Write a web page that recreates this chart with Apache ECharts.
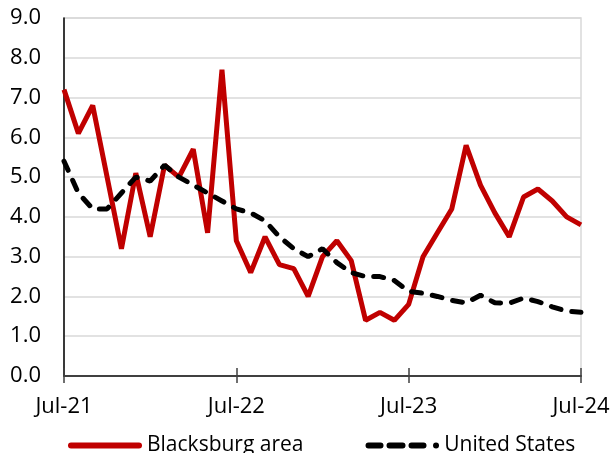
<!DOCTYPE html>
<html><head><meta charset="utf-8">
<script src="https://cdn.jsdelivr.net/npm/echarts@6/dist/echarts.min.js"></script>
<style>html,body{margin:0;padding:0;background:#fff}#c{width:613px;height:453px}</style>
</head><body><div id="c"></div>
<script>
const months = ["Jul-21","Aug-21","Sep-21","Oct-21","Nov-21","Dec-21","Jan-22","Feb-22","Mar-22","Apr-22","May-22","Jun-22",
"Jul-22","Aug-22","Sep-22","Oct-22","Nov-22","Dec-22","Jan-23","Feb-23","Mar-23","Apr-23","May-23","Jun-23",
"Jul-23","Aug-23","Sep-23","Oct-23","Nov-23","Dec-23","Jan-24","Feb-24","Mar-24","Apr-24","May-24","Jun-24","Jul-24"];
const blacksburg = [7.2,6.1,6.8,5.0,3.2,5.1,3.5,5.3,5.0,5.7,3.6,7.7,
3.4,2.6,3.5,2.8,2.7,2.0,3.0,3.4,2.9,1.4,1.6,1.4,
1.8,3.0,3.6,4.2,5.8,4.8,4.1,3.5,4.5,4.7,4.4,4.0,3.8];
const unitedStates = [5.4,4.6,4.2,4.2,4.6,5.0,4.9,5.3,5.0,4.8,4.6,4.4,
4.2,4.1,3.9,3.5,3.2,3.0,3.2,2.85,2.6,2.5,2.5,2.4,
2.13,2.08,2.0,1.9,1.84,2.03,1.84,1.83,1.96,1.87,1.74,1.63,1.6];
const yTicks = [0,1,2,3,4,5,6,7,8,9];
const seriesNames = ['Blacksburg area','United States'];
const FONT = "Open Sans";
const solidIcon = 'path://M3,0h68a3,3 0 0 1 0,6h-68a3,3 0 0 1 0,-6z';
const dashIcon = 'path://M3,0h12a3,3 0 0 1 0,6h-12a3,3 0 0 1 0,-6z M24,0h13a3,3 0 0 1 0,6h-13a3,3 0 0 1 0,-6z M46,0h12a3,3 0 0 1 0,6h-12a3,3 0 0 1 0,-6z M70.5,0a3,3 0 0 1 0,6a3,3 0 0 1 0,-6z';
const chart = echarts.init(document.getElementById('c'));
chart.setOption({
  animation:false,
  backgroundColor:'#fff',
  textStyle:{fontFamily:FONT},
  grid:{left:64,right:32,top:18,bottom:77,show:true,borderColor:'#d9d9d9',borderWidth:1.5},
  legend:{top:430,left:63,itemWidth:74,itemHeight:6,itemGap:62,
    textStyle:{fontFamily:FONT,fontSize:21,color:'#000'},
    data:[{name:seriesNames[0],icon:solidIcon},{name:seriesNames[1],icon:dashIcon}]},
  xAxis:[{type:'category',data:months,boundaryGap:false,position:'bottom',
    axisLine:{lineStyle:{color:'#404040',width:2}},
    axisTick:{interval:11,length:7,lineStyle:{color:'#404040',width:1.5}},
    axisLabel:{interval:11,margin:20,fontSize:22,color:'#000',fontFamily:FONT},
    splitLine:{show:false}},
   {type:'category',data:months,boundaryGap:false,position:'bottom',
    axisLine:{show:false},
    axisTick:{interval:11,length:8,inside:true,lineStyle:{color:'#404040',width:1.5}},
    axisLabel:{show:false},splitLine:{show:false}}],
  yAxis:{type:'value',min:yTicks[0],max:yTicks[yTicks.length-1],interval:1,
    axisLine:{show:true,lineStyle:{color:'#000',width:1.5}},
    axisTick:{show:false},
    axisLabel:{formatter:v=>v.toFixed(1),fontSize:22,color:'#000',margin:23,fontFamily:FONT},
    splitLine:{lineStyle:{color:'#d9d9d9',width:1.5}}},
  series:[
    {name:seriesNames[0],type:'line',data:blacksburg,symbol:'none',
      lineStyle:{color:'#c00000',width:5},itemStyle:{color:'#c00000'}},
    {name:seriesNames[1],type:'line',data:unitedStates,symbol:'none',
      lineStyle:{color:'#000',width:5,type:[10,11],cap:'round'},itemStyle:{color:'#000'}}
  ]
});
</script></body></html>
